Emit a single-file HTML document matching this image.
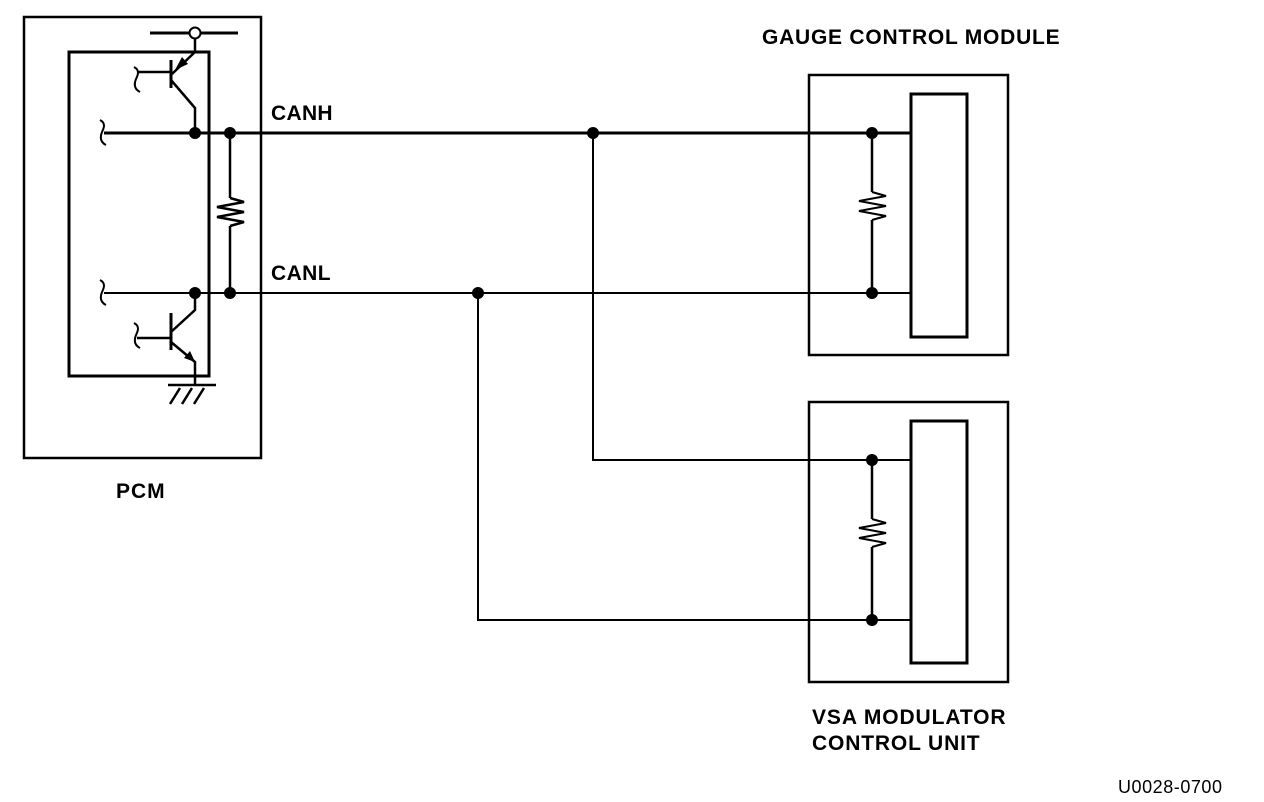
<!DOCTYPE html>
<html><head><style>body{margin:0;background:#fff}svg{display:block}text{font-family:"Liberation Sans",sans-serif;font-weight:bold;font-size:21px;letter-spacing:0.4px;fill:#000}</style></head><body>
<svg width="1264" height="802" viewBox="0 0 1264 802" xmlns="http://www.w3.org/2000/svg">
<g fill="none" stroke="#000" stroke-width="2.5">
<rect x="24" y="17" width="237" height="441"/>
<rect x="69" y="52" width="140" height="324" stroke-width="3"/>
<line x1="150" y1="33" x2="238" y2="33" stroke-width="3"/>
<line x1="195" y1="38" x2="195" y2="52"/>
<polyline points="195,52 172,74"/>
<line x1="171" y1="60" x2="171" y2="88" stroke-width="3"/>
<line x1="137" y1="72" x2="171" y2="72"/>
<polyline points="171,80 195,108 195,133"/>
<path d="M134,67 c6,3 4,8 2,12 c-2,5 -2,10 4,13" stroke-width="2"/>
<path d="M100,120 c6,3 4,8 2,12 c-2,5 -2,10 4,13 M100,280 c6,3 4,8 2,12 c-2,5 -2,10 4,13 M134,323 c6,3 4,8 2,12 c-2,5 -2,10 4,13" stroke-width="2"/>
<line x1="104" y1="133" x2="910" y2="133" stroke-width="3"/>
<line x1="104" y1="293" x2="910" y2="293" stroke-width="2"/>
<line x1="230" y1="133" x2="230" y2="198"/>
<polyline points="230,198 244,202 217,207 244,212 217,217 244,222 230,226"/>
<line x1="230" y1="226" x2="230" y2="293"/>
<polyline points="195,293 195,310 171,332"/>
<line x1="171" y1="313" x2="171" y2="350" stroke-width="3"/>
<line x1="137" y1="338" x2="171" y2="338"/>
<polyline points="171,342 195,362 195,385"/>
<line x1="168" y1="385" x2="216" y2="385"/>
<path d="M180,388 l-10,16 M192,388 l-10,16 M204,388 l-10,16"/>
<rect x="809" y="75" width="199" height="280"/>
<rect x="911" y="94" width="56" height="243" stroke-width="3"/>
<line x1="872" y1="133" x2="872" y2="192"/>
<polyline points="872,192 886,196 859,201 886,206 859,211 886,216 872,220" stroke-width="2"/>
<line x1="872" y1="220" x2="872" y2="293"/>
<rect x="809" y="402" width="199" height="280"/>
<rect x="911" y="421" width="56" height="242" stroke-width="3"/>
<line x1="872" y1="460" x2="872" y2="519"/>
<polyline points="872,519 886,523 859,528 886,533 859,538 886,543 872,547" stroke-width="2"/>
<line x1="872" y1="547" x2="872" y2="620"/>
<polyline points="593,133 593,460 910,460" stroke-width="2"/>
<polyline points="478,293 478,620 910,620" stroke-width="2"/>
</g>
<circle cx="195" cy="33" r="5.5" fill="#fff" stroke="#000" stroke-width="2"/>
<polygon points="175,70 182,57 188,64" fill="#000"/>
<polygon points="195,362 184,358 190,351" fill="#000"/>
<g fill="#000">
<circle cx="195" cy="133" r="6"/><circle cx="230" cy="133" r="6"/>
<circle cx="195" cy="293" r="6"/><circle cx="230" cy="293" r="6"/>
<circle cx="593" cy="133" r="6"/><circle cx="478" cy="293" r="6"/>
<circle cx="872" cy="133" r="6"/><circle cx="872" cy="293" r="6"/>
<circle cx="872" cy="460" r="6"/><circle cx="872" cy="620" r="6"/>
</g>
<text x="271" y="120" textLength="62">CANH</text>
<text x="271" y="280" textLength="60">CANL</text>
<text x="116" y="498" textLength="49">PCM</text>
<text x="762" y="44" textLength="298">GAUGE CONTROL MODULE</text>
<text x="812" y="724" textLength="194">VSA MODULATOR</text>
<text x="812" y="750" textLength="168">CONTROL UNIT</text>
<text x="1118" y="793" textLength="104" style="font-weight:normal;font-size:18px;letter-spacing:0">U0028-0700</text>
</svg>
</body></html>
